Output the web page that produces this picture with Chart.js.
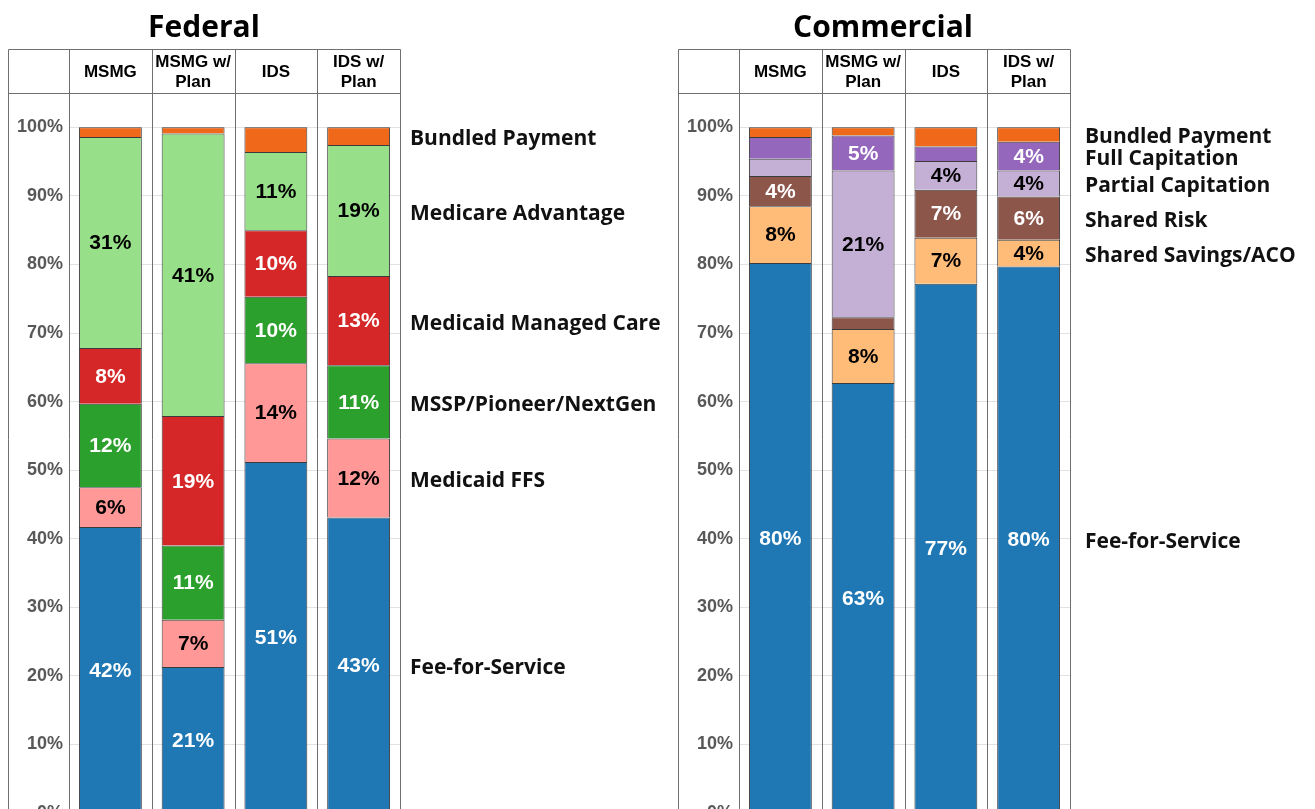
<!DOCTYPE html>
<html>
<head>
<meta charset="utf-8">
<script src="https://cdn.jsdelivr.net/npm/chart.js@4.4.0/dist/chart.umd.min.js"></script>
<style>
  html, body { margin: 0; padding: 0; background: #fff; overflow: hidden; }
  .panel { position: absolute; top: 0; }
  #federal-wrap { left: 0; }
  #commercial-wrap { left: 670px; }
</style>
</head>
<body>
<div class="panel" id="federal-wrap"><canvas id="federal" width="680" height="830"></canvas></div>
<div class="panel" id="commercial-wrap"><canvas id="commercial" width="645" height="830"></canvas></div>
<script>
// column headers, shared by both panels
const categories = ['MSMG', ['MSMG w/', 'Plan'], 'IDS', ['IDS w/', 'Plan']]

// Federal, stacked bottom to top (% of revenue)
const federalSeries = ['Fee-for-Service', 'Medicaid FFS', 'MSSP/Pioneer/NextGen', 'Medicaid Managed Care', 'Medicare Advantage', 'Bundled Payment']
const fedFeeForService = [41.7, 21.3, 51.2, 43.1]
const fedMedicaidFfs = [5.8, 6.9, 14.4, 11.5]
const fedMssp = [12.2, 10.8, 9.7, 10.7]
const fedMedicaidManaged = [8.1, 18.9, 9.7, 13.0]
const fedMedicareAdvantage = [30.8, 41.2, 11.4, 19.1]
const fedBundled = [1.4, 0.9, 3.6, 2.6]

// Commercial, stacked bottom to top
const commercialSeries = ['Fee-for-Service', 'Shared Savings/ACO', 'Shared Risk', 'Partial Capitation', 'Full Capitation', 'Bundled Payment']
const comFeeForService = [80.2, 62.7, 77.2, 79.7]
const comSharedSavings = [8.3, 7.9, 6.7, 3.9]
const comSharedRisk = [4.4, 1.7, 7.0, 6.3]
const comPartialCap = [2.5, 21.4, 4.2, 3.8]
const comFullCap = [3.2, 5.1, 2.1, 4.2]
const comBundled = [1.4, 1.2, 2.8, 2.1]

const yTicks = [0, 10, 20, 30, 40, 50, 60, 70, 80, 90, 100]

const ARIAL = '"Liberation Sans", Arial, sans-serif'
const SANS = '"Open Sans", "Noto Sans", sans-serif'
Chart.defaults.font.family = ARIAL

// box, column separators, header text and title
const framePlugin = {
  id: 'frame',
  afterDatasetsDraw(chart, args, o) {
    const {ctx, chartArea: a, scales: {x, y}} = chart
    const headTop = a.top - 44
    const step = x.getPixelForValue(1) - x.getPixelForValue(0)
    const px = v => Math.round(v) + 0.5
    ctx.save()
    ctx.strokeStyle = '#6f6f6f'
    ctx.lineWidth = 1
    ctx.beginPath()
    ctx.moveTo(px(y.left), px(headTop))
    ctx.lineTo(px(y.left), chart.height)
    ctx.moveTo(px(y.left), px(headTop))
    ctx.lineTo(px(a.right), px(headTop))
    ctx.moveTo(px(y.left), px(a.top))
    ctx.lineTo(px(a.right), px(a.top))
    for (let i = 0; i <= categories.length; i++) {
      const bx = x.getPixelForValue(0) - step / 2 + i * step
      ctx.moveTo(px(bx), px(headTop))
      ctx.lineTo(px(bx), chart.height)
    }
    ctx.stroke()

    // header labels
    ctx.fillStyle = '#000'
    ctx.font = 'bold 17px ' + ARIAL
    ctx.textAlign = 'center'
    ctx.textBaseline = 'middle'
    categories.forEach((lab, i) => {
      const lines = Array.isArray(lab) ? lab : [lab]
      const lh = 20
      const y0 = a.top - 21 - (lines.length - 1) * lh / 2
      lines.forEach((t, k) => ctx.fillText(t, x.getPixelForValue(i), y0 + k * lh))
    })

    // panel title
    ctx.font = 'bold 30px ' + SANS
    ctx.textBaseline = 'alphabetic'
    ctx.fillText(o.title, (y.left + a.right) / 2 + (o.titleDx || 0), 37)
    ctx.restore()
  }
}

// percentage inside segments and series names beside the last bar
const labelPlugin = {
  id: 'segLabels',
  afterDatasetsDraw(chart, args, o) {
    const {ctx, chartArea: a} = chart
    ctx.save()
    ctx.textAlign = 'center'
    ctx.textBaseline = 'middle'
    ctx.font = 'bold 21px ' + ARIAL
    chart.data.datasets.forEach((ds, di) => {
      const meta = chart.getDatasetMeta(di)
      meta.data.forEach((bar, i) => {
        const v = ds.data[i]
        if (v < 3.7) return
        ctx.fillStyle = o.textColors[di]
        ctx.fillText(Math.round(v) + '%', bar.x, (bar.y + bar.base) / 2 + 1)
      })
    })
    ctx.textAlign = 'left'
    ctx.font = 'bold 21px ' + SANS
    ctx.fillStyle = '#111'
    chart.data.datasets.forEach((ds, di) => {
      const meta = chart.getDatasetMeta(di)
      const last = meta.data[meta.data.length - 1]
      ctx.fillText(ds.label, a.right + o.gap, (last.y + last.base) / 2 + 3)
    })
    ctx.restore()
  }
}

function buildChart(id, names, values, colors, textColors, extra) {
  const datasets = names.map((name, i) => ({
    label: name,
    data: values[i],
    backgroundColor: colors[i],
    borderColor: '#3b3b3b',
    borderWidth: 1,
    barPercentage: 0.76,
    categoryPercentage: 1
  }))

  return new Chart(document.getElementById(id), {
    type: 'bar',
    data: {labels: categories, datasets},
    plugins: [framePlugin, labelPlugin],
    options: {
      responsive: false,
      animation: false,
      layout: {padding: {left: 8, right: extra.padRight, top: 93, bottom: 17}},
      plugins: {
        legend: {display: false},
        tooltip: {enabled: false},
        frame: {title: extra.title, titleDx: extra.titleDx},
        segLabels: {textColors, gap: extra.gap}
      },
      scales: {
        x: {stacked: true, display: false},
        y: {
          stacked: true,
          min: 0,
          max: 105,
          afterFit: s => { s.width = 61 },
          afterBuildTicks: s => { s.ticks = yTicks.map(v => ({value: v})) },
          ticks: {
            padding: 6,
            color: '#585858',
            font: {size: 18, weight: 'bold'},
            callback: v => v + '%'
          },
          grid: {color: '#e2e2e2', drawTicks: false},
          border: {display: false}
        }
      }
    }
  })
}

buildChart('federal',
  federalSeries,
  [fedFeeForService, fedMedicaidFfs, fedMssp, fedMedicaidManaged, fedMedicareAdvantage, fedBundled],
  ['#1f77b4', '#ff9896', '#2ca02c', '#d62728', '#98df8a', '#f0691a'],
  ['#fff', '#000', '#fff', '#fff', '#000', '#fff'],
  {title: 'Federal', padRight: 280, gap: 10, titleDx: 0})

buildChart('commercial',
  commercialSeries,
  [comFeeForService, comSharedSavings, comSharedRisk, comPartialCap, comFullCap, comBundled],
  ['#1f77b4', '#ffbb78', '#8c564b', '#c5b0d5', '#9467bd', '#f0691a'],
  ['#fff', '#000', '#fff', '#000', '#fff', '#fff'],
  {title: 'Commercial', padRight: 245, gap: 15, titleDx: 9})
</script>
</body>
</html>
